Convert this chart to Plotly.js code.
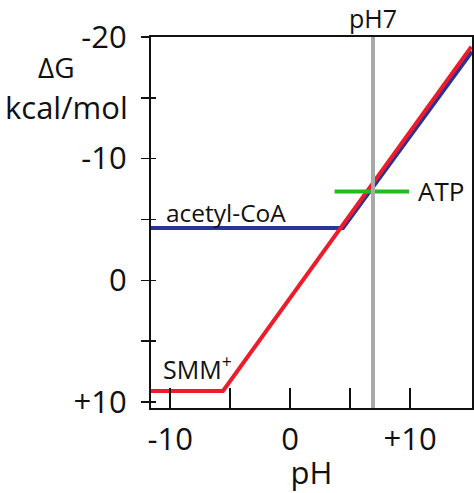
<!DOCTYPE html>
<html>
<head>
<meta charset="utf-8">
<script src="https://cdn.plot.ly/plotly-3.0.1.min.js"></script>
<style>
  html, body { margin: 0; padding: 0; background: #fff; }
  #chart { width: 474px; height: 493px; }
</style>
</head>
<body>
<div id="chart"></div>
<script>
// values
const smmPH = [-11.6, -5.6, 15.1];
const smmDG = [9.1, 9.1, -19.2];
const acoaPH = [-11.6, 4.4, 15.15];
const acoaDG = [-4.3, -4.3, -18.8];
const atpPH = [3.7, 9.9];
const atpDG = [-7.3, -7.3];
const ph7X = [6.9, 6.9];
const ph7Y = [10.5, -20];

const xTickVals = [-10, -5, 0, 5, 10];
const xTickText = ["-10", "", "0", "", "+10"];
const yTickVals = [-20, -15, -10, -5, 0, 5, 10];
const yTickText = ["-20", "", "-10", "", "0", "", "+10"];

const txt = "#111";
const fam = "Open Sans, Lato, sans-serif";

var data = [
  {
    x: acoaPH, y: acoaDG, type: "scatter", mode: "lines",
    line: { color: "#2b3496", width: 4 }, hoverinfo: "skip"
  },
  {
    x: smmPH, y: smmDG, type: "scatter", mode: "lines",
    line: { color: "#ee1c2a", width: 4 }, hoverinfo: "skip"
  },
  {
    x: atpPH, y: atpDG, type: "scatter", mode: "lines",
    line: { color: "#22bb22", width: 4 }, hoverinfo: "skip"
  },
  {
    // pH 7 marker, put on the overlay axis so its inside ticks get drawn
    x: ph7X, y: ph7Y, type: "scatter", mode: "lines", yaxis: "y2",
    line: { color: "#a9a9a9", width: 4 }, hoverinfo: "skip"
  }
];

var layout = {
  width: 474,
  height: 493,
  margin: { l: 151, r: 2, t: 37, b: 85, pad: 0 },
  paper_bgcolor: "#fff",
  plot_bgcolor: "#fff",
  showlegend: false,
  font: { family: fam, color: txt },
  xaxis: {
    range: [-11.6, 15.15],
    tickmode: "array",
    tickvals: xTickVals,
    ticktext: xTickText,
    ticks: "inside",
    ticklen: 20,
    tickwidth: 1.5,
    tickcolor: "#111",
    tickfont: { size: 31, color: txt, family: fam },
    ticklabelstandoff: 3,
    showline: true,
    linecolor: "#111",
    linewidth: 2,
    mirror: true,
    showgrid: false,
    zeroline: false,
    title: { text: "pH", font: { size: 31, color: txt, family: fam }, standoff: 0 }
  },
  yaxis: {
    range: [10.5, -20],
    tickmode: "array",
    tickvals: yTickVals,
    ticktext: yTickText,
    ticks: "outside",
    ticklen: 8,
    tickwidth: 1.5,
    tickcolor: "#111",
    tickfont: { size: 31, color: txt, family: fam },
    ticklabelstandoff: 8,
    showline: true,
    linecolor: "#111",
    linewidth: 2,
    mirror: true,
    showgrid: false,
    zeroline: false
  },
  yaxis2: {
    overlaying: "y",
    range: [10.5, -20],
    tickmode: "array",
    tickvals: yTickVals,
    ticks: "inside",
    ticklen: 5,
    tickwidth: 1.5,
    tickcolor: "#111",
    showticklabels: false,
    showline: false,
    showgrid: false,
    zeroline: false
  },
  annotations: [
    // axis title written as two stacked horizontal labels
    { xref: "paper", yref: "paper", x: 0, y: 1.0, xshift: -95, yshift: -30, text: "ΔG",
      showarrow: false, xanchor: "center", yanchor: "middle",
      font: { size: 28, color: txt, family: fam } },
    { xref: "paper", yref: "paper", x: 0, y: 1.0, xshift: -85, yshift: -70, text: "kcal/mol",
      showarrow: false, xanchor: "center", yanchor: "middle",
      font: { size: 31, color: txt, family: fam } },
    { xref: "x", yref: "paper", x: 6.9, y: 1.0, yshift: 19, text: "pH7",
      showarrow: false, xanchor: "center", yanchor: "middle",
      font: { size: 25, color: txt, family: fam } },
    { xref: "x", yref: "y", x: -10.5, y: -5.6, text: "acetyl-CoA",
      showarrow: false, xanchor: "left", yanchor: "middle",
      font: { size: 24.5, color: txt, family: fam } },
    { xref: "x", yref: "y", x: 10.5, y: -7.3, text: "ATP",
      showarrow: false, xanchor: "left", yanchor: "middle",
      font: { size: 26, color: txt, family: fam } },
    { xref: "x", yref: "y", x: -10.8, y: 7.2, text: "SMM<sup>+</sup>",
      showarrow: false, xanchor: "left", yanchor: "middle",
      font: { size: 25, color: txt, family: fam } }
  ]
};

Plotly.newPlot("chart", data, layout, { staticPlot: true });
</script>
</body>
</html>
